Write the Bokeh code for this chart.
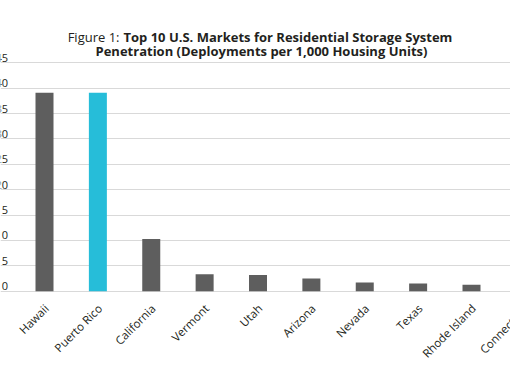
import math
from bokeh.plotting import figure
from bokeh.models import ColumnDataSource, Grid, FixedTicker, Label
from bokeh.core.properties import value
from bokeh.embed import file_html
from bokeh.resources import INLINE

states = ["Hawaii", "Puerto Rico", "California", "Vermont", "Utah",
          "Arizona", "Nevada", "Texas", "Rhode Island", "Connecticut"]
deployments = [39.1, 39.1, 10.3, 3.35, 3.2, 2.5, 1.7, 1.5, 1.25, 1.1]
highlight = "Puerto Rico"
y_ticks = [0, 5, 10, 15, 20, 25, 30, 35, 40, 45]
y_tick_labels = ["0", "5", "10", "15", "20", "25", "30", "35", "40", "45"]

GRAY = "#5e5e5e"
CYAN = "#26bdd9"
TXT = "#231f20"

W, H = 510, 382
xpx = 53.375           # pixels per category
x0 = -44 / xpx
x1 = x0 + W / xpx
ypx = 5.076            # pixels per unit
y0 = -91.3 / ypx
y1 = y0 + H / ypx

idx = list(range(len(states)))
colors = [CYAN if s == highlight else GRAY for s in states]
src = ColumnDataSource(dict(x=idx, top=deployments, color=colors, name=states,
                            y=[0] * len(states)))

p = figure(width=W, height=H, x_range=(x0, x1), y_range=(y0, y1),
           x_axis_type=None, y_axis_type=None, min_border=0,
           toolbar_location=None, output_backend="svg",
           outline_line_color=None, background_fill_color="white",
           border_fill_color="white")

grid = Grid(dimension=1, ticker=FixedTicker(ticks=y_ticks),
            grid_line_color="#d9d9d9", grid_line_width=1.2)
p.add_layout(grid)

p.vbar(x="x", top="top", bottom=0, width=18 / xpx, color="color",
       line_color=None, source=src)

# y tick labels (partially cropped at the left edge, as in the reference)
p.text(x=[x0 + 7.5 / xpx] * len(y_ticks), y=y_ticks, text=y_tick_labels,
       text_align="right", text_baseline="bottom", y_offset=-1,
       text_font=value("Open Sans"), text_font_size="11px", text_color=TXT)

# category labels, rotated
p.text(x="x", y="y", text="name", source=src, angle=math.pi / 4,
       text_align="right", text_baseline="middle", x_offset=2, y_offset=15,
       text_font=value("Open Sans"), text_font_size="11.5px", text_color=TXT)

tfont = "Open Sans"
p.add_layout(Label(x=119, y=H - 36, x_units="screen", y_units="screen",
                   text="Figure 1:", text_font=tfont, text_font_size="13px",
                   text_font_style="normal", text_baseline="alphabetic",
                   text_align="right", text_color=TXT))
p.add_layout(Label(x=123, y=H - 36, x_units="screen", y_units="screen",
                   text="Top 10 U.S. Markets for Residential Storage System",
                   text_font=tfont, text_font_size="13px",
                   text_font_style="bold", text_baseline="alphabetic",
                   text_color=TXT))
p.add_layout(Label(x=261, y=H - 50, x_units="screen", y_units="screen",
                   text="Penetration (Deployments per 1,000 Housing Units)",
                   text_font=tfont, text_font_size="13px",
                   text_font_style="bold", text_baseline="alphabetic",
                   text_align="center", text_color=TXT))

open("out.html", "w").write(file_html(p, INLINE))
